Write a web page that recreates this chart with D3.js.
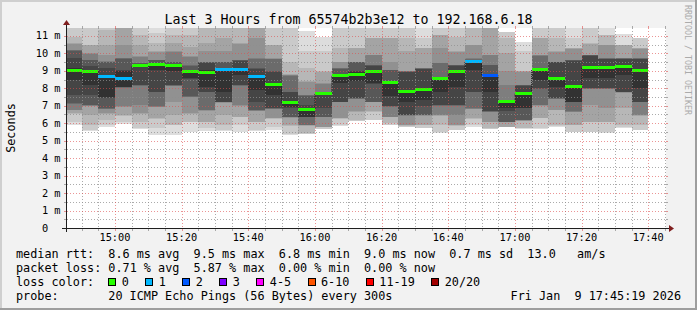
<!DOCTYPE html>
<html>
<head>
<meta charset="utf-8">
<script src="https://cdn.jsdelivr.net/npm/d3@7"></script>
<style>
  body { margin: 0; background: #f2f2f2; }
  svg text { font-family: "DejaVu Sans Mono", monospace; }
</style>
</head>
<body>
<svg id="chart" width="697" height="310"></svg>
<script>
// ---- data ----
const endTime = new Date(2026, 0, 9, 17, 45, 19);
const firstColEnd = new Date(2026, 0, 9, 14, 50, 0);
const stepMin = 5;
const yMax = 11.45;

// median rtt per 5 min row (ms)
const medians = [9.00, 8.96, 8.65, 8.54, 9.28, 9.36, 9.28, 8.96, 8.90, 9.05,
                 9.05, 8.65, 8.20, 7.18, 6.76, 7.68, 8.71, 8.77, 8.96, 8.33,
                 7.81, 7.91, 8.54, 8.96, 9.51, 8.71, 7.24, 7.68, 9.05, 8.54,
                 8.08, 9.17, 9.17, 9.23, 9.00];
// lost pings per row (of 20)
const lossCounts = [0, 0, 1, 1, 0, 0, 0, 0, 0, 1,
                    1, 1, 0, 0, 0, 0, 0, 0, 0, 0,
                    0, 0, 0, 0, 1, 2, 0, 0, 0, 0,
                    0, 0, 0, 0, 0];
// sorted ping times per row (ms), 20 pings
const pings = [
  [5.90,6.09,6.55,6.57,6.74,6.76,7.12,7.14,7.62,8.48,9.15,9.72,10.16,10.18,10.20,10.56,10.58,10.96,11.44,12.0],
  [5.56,5.62,5.90,6.48,6.99,7.01,7.03,7.05,7.62,8.19,8.97,9.25,9.61,9.63,9.99,10.01,10.47,10.49,11.6,12.2],
  [5.80,5.90,6.19,6.52,6.57,6.80,6.84,6.86,7.43,7.48,8.67,9.15,9.48,9.53,9.58,9.91,10.49,11.35,12.0,12.6],
  [5.95,6.09,6.44,6.48,6.92,6.96,8.00,8.05,8.10,8.10,8.97,9.02,9.68,9.72,9.76,10.49,11.6,12.0,12.3,12.7],
  [5.67,5.71,6.09,6.53,6.57,7.05,8.14,8.17,8.19,9.25,9.32,9.40,9.42,9.44,9.78,9.82,10.49,11.06,11.7,12.3],
  [5.33,5.71,6.25,6.29,6.92,6.94,6.96,7.78,7.81,9.06,9.38,9.40,9.60,9.62,9.63,10.08,10.11,10.58,11.16,12.0],
  [5.33,5.88,5.90,6.48,7.24,8.12,8.15,8.17,8.19,8.97,9.30,9.40,9.50,9.53,10.08,10.11,10.58,11.06,11.8,12.4],
  [5.52,6.05,6.09,6.53,6.57,7.48,7.50,7.53,8.55,8.58,8.97,9.00,9.30,9.34,9.78,9.82,10.39,11.06,11.7,12.3],
  [5.56,5.71,6.05,6.09,6.72,6.74,6.76,7.78,7.81,8.10,9.06,9.45,9.48,9.50,9.53,10.11,10.58,11.7,12.1,12.6],
  [5.56,5.62,5.90,6.48,7.18,7.20,7.22,7.24,7.24,7.81,9.15,9.18,9.50,9.52,9.53,10.11,10.87,11.7,12.1,12.7],
  [5.50,5.90,6.34,6.38,7.00,7.05,8.15,8.17,8.19,8.77,9.15,9.58,9.60,9.62,9.63,10.55,10.58,11.7,12.2,12.8],
  [5.56,5.62,6.05,6.09,6.70,6.72,6.74,6.76,7.24,7.91,8.67,9.10,9.15,9.70,9.72,10.87,11.7,12.0,12.3,12.7],
  [5.62,5.81,6.25,6.27,6.29,6.82,6.84,6.86,6.86,7.62,8.19,8.95,8.97,9.68,9.70,9.72,10.45,10.49,11.8,12.4],
  [5.35,5.39,5.86,5.90,6.32,6.34,6.36,6.38,6.86,6.90,7.24,7.78,7.81,8.70,8.74,8.77,8.80,9.53,11.8,12.3],
  [5.39,5.40,5.43,5.86,5.88,5.90,5.90,6.36,6.38,6.38,6.76,7.05,7.58,7.60,7.62,8.36,8.39,9.15,10.11,11.25],
  [5.65,5.67,5.77,5.79,5.81,6.34,6.36,6.38,6.86,7.62,7.70,7.71,7.72,7.72,8.27,8.29,8.95,8.97,10.11,10.96],
  [5.85,5.90,6.25,6.27,6.29,7.20,7.22,7.24,7.24,8.29,8.75,8.77,9.12,9.14,9.15,9.50,9.53,10.30,11.8,12.4],
  [6.10,6.15,6.19,6.65,6.67,7.38,7.40,7.43,7.43,8.39,8.92,8.97,9.50,9.52,9.53,9.53,10.28,10.30,11.8,12.4],
  [6.17,6.19,6.65,6.67,7.20,7.22,7.24,7.24,8.27,8.29,9.00,9.30,9.32,9.34,9.88,9.91,10.85,10.87,11.8,12.4],
  [5.88,5.90,6.00,6.34,6.36,6.38,6.94,6.96,6.96,7.53,8.35,8.39,9.02,9.04,9.06,9.53,10.85,10.87,11.8,12.4],
  [5.78,5.80,5.86,5.88,5.90,6.44,6.46,6.48,6.48,7.24,7.91,8.92,8.94,8.96,8.97,8.97,10.11,10.87,11.8,12.4],
  [5.71,5.73,5.88,5.90,6.44,6.46,6.48,6.48,6.96,7.34,8.00,9.10,9.12,9.14,9.15,9.15,10.28,10.30,10.87,12.0],
  [5.46,5.52,5.90,6.44,6.46,6.48,7.00,7.03,7.05,7.81,8.58,8.62,8.67,9.42,9.44,10.30,11.04,11.06,11.8,12.4],
  [5.60,5.62,5.86,5.88,5.90,6.48,7.00,7.03,7.05,8.10,9.00,9.30,9.32,9.34,9.34,10.08,10.11,10.96,11.8,12.4],
  [5.80,5.90,6.25,6.29,6.82,6.84,6.86,7.78,7.81,9.06,9.58,9.60,9.62,9.66,9.72,10.47,10.49,11.7,12.2,12.8],
  [5.67,5.69,5.71,6.07,6.09,6.63,6.65,6.67,6.67,7.81,8.75,8.77,9.32,9.34,9.88,9.91,11.7,12.0,12.3,12.7],
  [5.78,5.79,5.80,5.81,6.05,6.07,6.09,6.09,6.67,6.86,7.24,7.25,7.26,7.28,8.19,8.97,10.01,10.87,11.21,11.21],
  [5.69,5.70,5.71,6.13,6.15,6.17,6.18,6.19,6.86,6.86,7.72,8.15,8.17,8.18,8.19,8.95,8.96,8.97,10.11,10.64],
  [5.67,5.71,6.27,6.29,7.01,7.03,7.05,7.98,8.00,8.48,9.08,9.12,9.15,9.86,9.88,9.91,10.85,10.87,11.8,12.4],
  [5.80,5.85,5.90,6.74,6.76,7.39,7.41,7.43,7.43,8.10,8.58,9.49,9.51,9.53,9.53,10.09,10.11,10.87,11.8,12.4],
  [5.50,5.52,5.88,5.90,6.63,6.65,6.67,7.20,7.22,7.24,8.19,9.58,9.60,9.62,9.63,10.26,10.28,10.30,10.87,12.0],
  [5.50,5.52,6.07,6.09,7.05,7.96,7.98,8.00,8.00,8.58,9.25,9.86,9.88,9.90,9.91,9.91,10.56,10.58,11.8,12.4],
  [5.46,5.52,6.07,6.09,6.86,7.96,7.98,8.00,8.00,8.58,9.25,9.68,9.70,9.71,9.72,10.47,10.49,11.04,11.06,12.4],
  [5.75,5.77,5.90,6.86,7.75,7.77,7.79,7.80,7.81,8.77,9.30,9.68,9.70,9.71,9.72,9.72,10.45,10.47,10.49,11.12],
  [5.60,5.62,5.90,6.44,6.46,6.48,7.20,7.22,7.24,8.00,9.06,9.68,9.70,9.71,9.72,10.26,10.28,10.30,10.85,10.87]
];

const yTickLabels = ["0", "1 m", "2 m", "3 m", "4 m", "5 m", "6 m", "7 m", "8 m", "9 m", "10 m", "11 m"];
const lossLabels = ["0", "1", "2", "3", "4-5", "6-10", "11-19", "20/20"];
const lossColors = ["#26ff00", "#00b8ff", "#0059ff", "#7e00ff", "#ff00ff", "#ff5500", "#ff0000", "#a10000"];
const lossUpper = [0, 1, 2, 3, 5, 10, 19, 20];

const titleText = "Last 3 Hours from 65574b2b3e12 to 192.168.6.18";
const legendRtt = ["8.6 ms avg", "9.5 ms max", "6.8 ms min", "9.0 ms now", "0.7 ms sd", "13.0   am/s"];
const legendLoss = ["0.71 % avg", "5.87 % max", "0.00 % min", "0.00 % now"];
const probeText = "20 ICMP Echo Pings (56 Bytes) every 300s";
const dateText = "Fri Jan  9 17:45:19 2026";

// ---- layout ----
const X0 = 66, X1 = 666, Y0 = 228, Y1 = 28;
const startTime = d3.timeHour.offset(endTime, -3);

const svg = d3.select("#chart");
const nb = s => s.replace(/ /g, "\u00a0");

const x = d3.scaleTime().domain([startTime, endTime]).range([X0, X1]);
const y = d3.scaleLinear().domain([0, yMax]).range([Y0, Y1]);

const colStart = i => d3.timeMinute.offset(firstColEnd, (i - 1) * stepMin);
const colEnd = i => d3.timeMinute.offset(firstColEnd, i * stepMin);
// smokeping shade for layer k (outermost k = 0)
const gray = k => { const c = Math.floor(190 / 10 * (10 - (k + 1))) + 50; return `rgb(${c},${c},${c})`; };
const lossClass = n => lossUpper.findIndex(u => n <= u);

// frame (rrdtool shade)
svg.append("rect").attr("width", 697).attr("height", 310).attr("fill", "#f2f2f2");
svg.append("path").attr("d", "M0,310V0H697").attr("fill", "none").attr("stroke", "#cfcfcf").attr("stroke-width", 4);
svg.append("path").attr("d", "M0,310H697V0").attr("fill", "none").attr("stroke", "#9e9e9e").attr("stroke-width", 4);

// canvas
svg.append("rect").attr("x", X0).attr("y", Y1).attr("width", X1 - X0).attr("height", Y0 - Y1).attr("fill", "#fff");

svg.append("clipPath").attr("id", "clip")
  .append("rect").attr("x", X0).attr("y", Y1).attr("width", X1 - X0).attr("height", Y0 - Y1);
const plot = svg.append("g").attr("clip-path", "url(#clip)");

// smoke
const layers = [];
pings.forEach((p, i) => {
  for (let k = 0; k < 10; k++) layers.push({ i, k, lo: p[k], hi: p[19 - k] });
});
plot.selectAll("rect.smoke").data(layers).join("rect")
  .attr("class", "smoke")
  .attr("shape-rendering", "crispEdges")
  .attr("x", d => x(colStart(d.i)))
  .attr("width", d => x(colEnd(d.i)) - x(colStart(d.i)))
  .attr("y", d => y(d.hi))
  .attr("height", d => y(d.lo) - y(d.hi))
  .attr("fill", d => gray(d.k));

// grid
const grid = svg.append("g");
const minorCol = "rgba(143,143,143,0.75)", majorCol = "rgba(222,79,79,0.6)";
const hMinor = d3.range(0.5, yMax, 1);
const hMajor = d3.range(1, yMax, 1);
const vAll = d3.timeMinute.every(5).range(startTime, endTime);
const vMajor = vAll.filter(t => t.getMinutes() % 20 === 0);
const vMinor = vAll.filter(t => t.getMinutes() % 20 !== 0);
const py = v => Math.round(y(v)) + 0.5;
const px = t => Math.round(x(t)) + 0.5;

function hLines(vals, color) {
  grid.selectAll(null).data(vals).join("line")
    .attr("x1", X0 + 1).attr("x2", X1)
    .attr("y1", py).attr("y2", py)
    .attr("stroke", color).attr("stroke-dasharray", "1,2");
  grid.selectAll(null).data(vals).join("path")
    .attr("d", d => `M${X0 - 2},${py(d)}H${X0}M${X1},${py(d)}H${X1 + 2}`)
    .attr("stroke", color);
}
function vLines(vals, color) {
  grid.selectAll(null).data(vals).join("line")
    .attr("y1", Y1).attr("y2", Y0)
    .attr("x1", px).attr("x2", px)
    .attr("stroke", color).attr("stroke-dasharray", "1,2");
  grid.selectAll(null).data(vals).join("path")
    .attr("d", d => `M${px(d)},${Y0 + 1}V${Y0 + 3}M${px(d)},${Y1 - 2}V${Y1}`)
    .attr("stroke", color);
}
hLines(hMinor, minorCol);
vLines(vMinor, minorCol);
hLines(hMajor, majorCol);
vLines(vMajor, majorCol);

// median: dark step line underneath, colored bars on top
const stepPts = medians.map((m, i) => [x(colStart(i)), y(m)]);
stepPts.push([x(colEnd(medians.length - 1)), y(medians[medians.length - 1])]);
plot.append("path")
  .attr("d", d3.line().curve(d3.curveStepAfter)(stepPts))
  .attr("fill", "none").attr("stroke", "#202020").attr("stroke-width", 1)
  .attr("stroke-dasharray", "1,1");

plot.selectAll("rect.med").data(medians).join("rect")
  .attr("class", "med")
  .attr("shape-rendering", "crispEdges")
  .attr("x", (d, i) => x(colStart(i)))
  .attr("width", (d, i) => x(colEnd(i)) - x(colStart(i)))
  .attr("y", d => y(d) - 1.5)
  .attr("height", 3)
  .attr("fill", (d, i) => lossColors[lossClass(lossCounts[i])]);

// axes
const axisCol = "#1f1f1f", arrowCol = "#801f1f";
svg.append("path").attr("d", `M${X0 - 4},${Y0 + 0.5}H${X1 + 4}`).attr("stroke", axisCol).attr("shape-rendering", "crispEdges");
svg.append("path").attr("d", `M${X0 + 0.5},${Y0 + 4}V${Y1 - 4}`).attr("stroke", axisCol).attr("shape-rendering", "crispEdges");
svg.append("path").attr("d", `M${X1 + 3},${Y0 - 3}L${X1 + 8},${Y0 + 0.5}L${X1 + 3},${Y0 + 4}Z`).attr("fill", arrowCol);
svg.append("path").attr("d", `M${X0 - 3},${Y1 - 3}L${X0 + 0.5},${Y1 - 8}L${X0 + 4},${Y1 - 3}Z`).attr("fill", arrowCol);

// tick labels
svg.append("g").selectAll("text").data(yTickLabels).join("text")
  .attr("x", 60.5).attr("y", (d, i) => y(i) + 3.6)
  .attr("text-anchor", "end").attr("font-size", 10.3).attr("fill", "#000")
  .text(d => d.includes("m") ? d : d + "\u00a0\u00a0");

const fmt = d3.timeFormat("%H:%M");
svg.append("g").selectAll("text").data(vMajor).join("text")
  .attr("x", d => x(d)).attr("y", 241)
  .attr("text-anchor", "middle").attr("font-size", 10.3).attr("fill", "#000")
  .text(fmt);

// titles
svg.append("text").attr("x", 348.5).attr("y", 23.5).attr("text-anchor", "middle")
  .attr("font-size", 13.3).text(titleText);
svg.append("text").attr("transform", "translate(14.5,128) rotate(-90)").attr("text-anchor", "middle")
  .attr("font-size", 11.8).text("Seconds");
svg.append("text").attr("transform", "translate(685,5) rotate(90)")
  .attr("font-size", 8.3).attr("fill", "#ababab").text(nb("RRDTOOL / TOBI OETIKER"));

// legend
const charW = 7.1, lx = 16;
const col = c => lx + c * charW;
const rows = [258.3, 272.2, 286.1, 300];
const legend = svg.append("g").attr("font-size", 11.8).attr("fill", "#000");
legend.append("text").attr("x", col(0)).attr("y", rows[0]).text(nb("median rtt:  " + legendRtt.join("  ")));
legend.append("text").attr("x", col(0)).attr("y", rows[1]).text(nb("packet loss: " + legendLoss.join("  ")));
legend.append("text").attr("x", col(0)).attr("y", rows[2]).text(nb("loss color:"));
let bx = col(13);
lossLabels.forEach((lab, i) => {
  legend.append("rect").attr("x", bx + 0.5).attr("y", rows[2] - 7.5).attr("width", 7).attr("height", 7)
    .attr("fill", lossColors[i]).attr("stroke", "#000").attr("shape-rendering", "crispEdges");
  legend.append("text").attr("x", bx + 13.5).attr("y", rows[2]).text(lab);
  bx += 15.7 + (lab.length + 2) * charW;
});
legend.append("text").attr("x", col(0)).attr("y", rows[3]).text(nb("probe:"));
legend.append("text").attr("x", col(13)).attr("y", rows[3]).text(nb(probeText));
legend.append("text").attr("x", 681).attr("y", rows[3]).attr("text-anchor", "end").text(nb(dateText));
</script>
</body>
</html>
